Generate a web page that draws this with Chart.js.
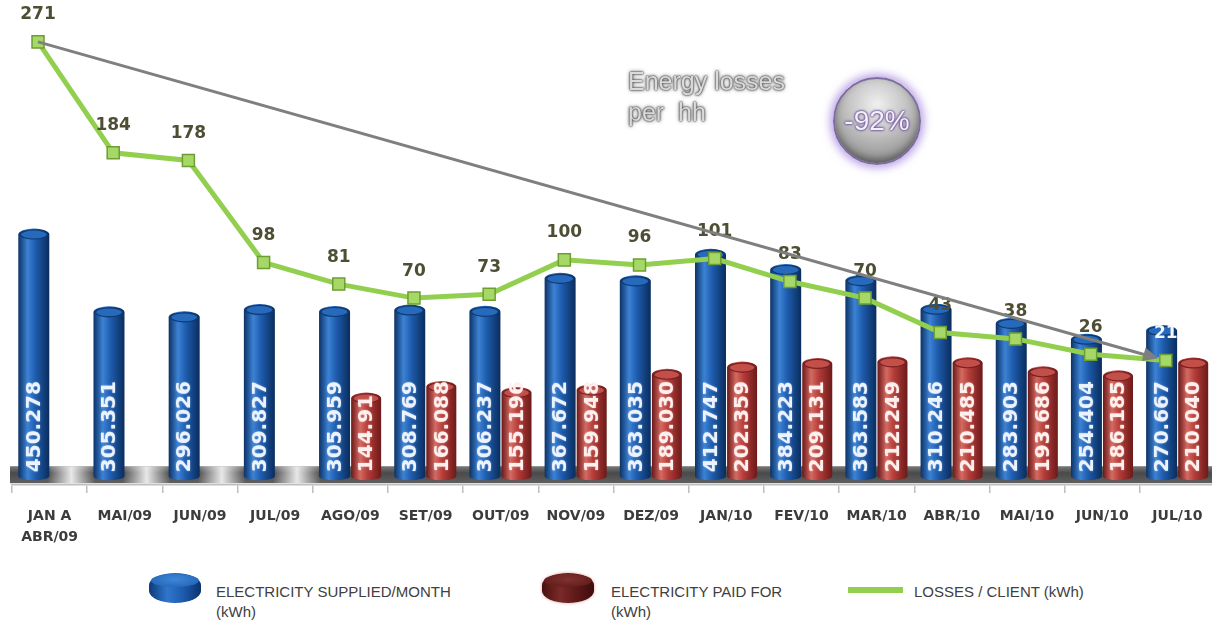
<!DOCTYPE html>
<html>
<head>
<meta charset="utf-8">
<script src="https://cdn.jsdelivr.net/npm/chart.js@4.4.1/dist/chart.umd.min.js"></script>
<style>
  html, body { margin: 0; padding: 0; background: #fff; width: 1212px; height: 623px; overflow: hidden; }
  #wrap { position: relative; width: 1212px; height: 623px; overflow: hidden; }
  #chart { position: absolute; left: 0; top: 0; }
  .note {
    position: absolute; left: 628px; top: 66px;
    font: 25px "Liberation Sans", Arial, sans-serif; line-height: 31px;
    color: #dadada;
    text-shadow: 0 0 2px #4a4a4a, 0 0 2px #4a4a4a, 0 0 4px #666;
  }
  .badge {
    position: absolute; left: 833px; top: 77px; width: 88px; height: 88px;
    box-sizing: border-box; border-radius: 50%;
    border: 2px solid #7d6c9e;
    background: radial-gradient(circle at 50% 30%, #f0f0f0 0%, #c4c4c4 40%, #939393 78%, #6c6c6c 100%);
    box-shadow: 0 0 8px 3px rgba(170, 140, 225, 0.8), inset 0 -4px 7px rgba(0,0,0,0.35);
    display: flex; align-items: center; justify-content: center;
    font: 28px "Liberation Sans", Arial, sans-serif; color: #f4f0fb;
    text-shadow: 0 0 2px #6b4f9a, 0 0 2px #6b4f9a, 0 0 3px #6b4f9a;
  }
  .puck { position: absolute; width: 52px; height: 30px; border-radius: 50% / 40%; }
  .puck::before {
    content: ""; position: absolute; left: 2px; right: 2px; top: 1px; height: 13px; border-radius: 50%;
  }
  .puck.blue { background: linear-gradient(to right, #0d3a78, #2f76cc 35%, #1d5cae 65%, #0b336e); }
  .puck.blue::before { background: radial-gradient(ellipse at 50% 40%, #3f86d8, #1f5fb2); }
  .puck.red { background: linear-gradient(to right, #4a1010, #7a2a28 35%, #5e1a18 65%, #3e0d0d); box-shadow: 0 0 3px rgba(200,60,60,0.6); }
  .puck.red::before { background: radial-gradient(ellipse at 50% 40%, #803230, #5a1816); }
  .leg { position: absolute; font: 15px "Liberation Sans", Arial, sans-serif; line-height: 20px; color: #404040; }
  .lossline { position: absolute; left: 848px; top: 587px; width: 55px; height: 6px; background: #93cf4f; }
</style>
</head>
<body>
<div id="wrap">
  <canvas id="chart" width="1226" height="560"></canvas>
  <div class="note">Energy losses<br>per&nbsp; hh</div>
  <div class="badge">-92%</div>
  <div class="puck blue" style="left:149px; top:573px;"></div>
  <div class="leg" style="left:216px; top:582px;">ELECTRICITY SUPPLIED/MONTH<br>(kWh)</div>
  <div class="puck red" style="left:542px; top:573px;"></div>
  <div class="leg" style="left:611px; top:582px;">ELECTRICITY PAID FOR<br>(kWh)</div>
  <div class="lossline"></div>
  <div class="leg" style="left:914px; top:582px;">LOSSES / CLIENT (kWh)</div>
</div>
<script>
// categories
const months = [['JAN A', 'ABR/09'], 'MAI/09', 'JUN/09', 'JUL/09', 'AGO/09', 'SET/09', 'OUT/09', 'NOV/09',
                'DEZ/09', 'JAN/10', 'FEV/10', 'MAR/10', 'ABR/10', 'MAI/10', 'JUN/10', 'JUL/10'];

// electricity supplied per month (thousand kWh)
const supplied = [450.278, 305.351, 296.026, 309.827, 305.959, 308.769, 306.237, 367.672,
                  363.035, 412.747, 384.223, 363.583, 310.246, 283.903, 254.404, 270.667];
const suppliedText = ['450.278', '305.351', '296.026', '309.827', '305.959', '308.769', '306.237', '367.672',
                      '363.035', '412.747', '384.223', '363.583', '310.246', '283.903', '254.404', '270.667'];

// electricity paid for
const paid = [null, null, null, null, 144.91, 166.088, 155.196, 159.948,
              189.030, 202.359, 209.131, 212.249, 210.485, 193.686, 186.185, 210.040];
const paidText = [null, null, null, null, '144.91', '166.088', '155.196', '159.948',
                  '189.030', '202.359', '209.131', '212.249', '210.485', '193.686', '186.185', '210.040'];

// losses per client (kWh)
const losses = [271, 184, 178, 98, 81, 70, 73, 100, 96, 101, 83, 70, 43, 38, 26, 21];

const bluePal = { edge: '#0c3266', light: '#3c82d4', mid: '#1e5cae', dark: '#0a2d5c', cap: '#2769bb', rim: '#0d3a74', text: '#eaf3ff' };
const redPal = { edge: '#6a1818', light: '#d46a62', mid: '#b43c38', dark: '#6c1a1a', cap: '#c24f4a', rim: '#7a2020', text: '#fff0ee' };

function drawCylinder(ctx, x, top, base, w, pal) {
    const rx = w / 2, ry = 6;
    const left = x - rx;
    const g = ctx.createLinearGradient(left, 0, left + w, 0);
    g.addColorStop(0, pal.edge);
    g.addColorStop(0.3, pal.light);
    g.addColorStop(0.55, pal.mid);
    g.addColorStop(1, pal.dark);
    ctx.fillStyle = g;
    ctx.beginPath();
    ctx.moveTo(left, top);
    ctx.lineTo(left, base);
    ctx.ellipse(x, base, rx, 4, 0, Math.PI, 0, true);
    ctx.lineTo(left + w, top);
    ctx.ellipse(x, top, rx, ry, 0, 0, Math.PI, true);
    ctx.closePath();
    ctx.fill();
    // top face
    ctx.beginPath();
    ctx.ellipse(x, top, rx - 2, ry - 1.5, 0, 0, Math.PI * 2);
    ctx.fillStyle = pal.cap;
    ctx.fill();
    ctx.lineWidth = 1.2;
    ctx.strokeStyle = pal.rim;
    ctx.stroke();
}

const cylinders = {
    id: 'cylinders',
    beforeDatasetsDraw(chart) {
        // dark floor under the bars
        const ctx = chart.ctx, area = chart.chartArea;
        const base = chart.scales.y.getPixelForValue(0);
        const g = ctx.createLinearGradient(0, base - 10, 0, base + 7);
        g.addColorStop(0, '#7a7a7a');
        g.addColorStop(0.4, '#4a4a4a');
        g.addColorStop(1, '#606060');
        ctx.save();
        ctx.fillStyle = g;
        ctx.fillRect(area.left - 2, base - 10, area.right - area.left + 4, 17);
        const blueMeta = chart.getDatasetMeta(0);
        const step = chart.scales.x.getPixelForValue(1) - chart.scales.x.getPixelForValue(0);
        blueMeta.data.forEach((bar, i) => {
            if (paid[i] != null) return;
            const cx = bar.x + step / 2;
            const lg = ctx.createLinearGradient(cx - 24, 0, cx + 24, 0);
            lg.addColorStop(0, 'rgba(240,240,240,0)');
            lg.addColorStop(0.5, 'rgba(240,240,240,0.95)');
            lg.addColorStop(1, 'rgba(240,240,240,0)');
            ctx.fillStyle = lg;
            ctx.fillRect(cx - 24, base - 10, 48, 17);
        });
        ctx.restore();
    },
    beforeDatasetDraw(chart, args) {
        const ds = chart.data.datasets[args.index];
        if (ds.type === 'line') return;
        const ctx = chart.ctx;
        ctx.save();
        args.meta.data.forEach((bar, i) => {
            if (ds.data[i].y == null) return;
            const p = bar.getProps(['x', 'y', 'base', 'width'], true);
            drawCylinder(ctx, p.x, p.y, p.base, p.width, ds.pal);
        });
        ctx.font = 'bold 20px "DejaVu Sans"';
        ctx.textAlign = 'left';
        ctx.textBaseline = 'middle';
        args.meta.data.forEach((bar, i) => {
            if (ds.data[i].y == null) return;
            const p = bar.getProps(['x', 'base'], true);
            ctx.save();
            ctx.translate(p.x + 1, p.base - 4);
            ctx.rotate(-Math.PI / 2);
            ctx.shadowColor = 'rgba(255,255,255,0.5)';
            ctx.shadowBlur = 2;
            ctx.fillStyle = ds.pal.text;
            ctx.fillText(ds.texts[i], 0, 0);
            ctx.restore();
        });
        ctx.restore();
        return false;
    },
    afterDatasetsDraw(chart) {
        const ctx = chart.ctx;
        const lineMeta = chart.getDatasetMeta(2);
        const blueBars = chart.getDatasetMeta(0).data;
        ctx.save();
        // values above the loss markers
        ctx.font = 'bold 17px "DejaVu Sans"';
        ctx.textAlign = 'center';
        ctx.textBaseline = 'middle';
        lineMeta.data.forEach((pt, i) => {
            const ly = pt.y - 27;
            const bar = blueBars[i];
            const onBar = Math.abs(bar.x - pt.x) < bar.width / 2 && ly > bar.y;
            ctx.fillStyle = onBar ? '#f2f6ff' : '#4e4e34';
            ctx.fillText(String(losses[i]), pt.x, ly);
        });
        // trend arrow
        const tr = chart.getDatasetMeta(3).data;
        const a = tr[0], b = tr[tr.length - 1];
        const ang = Math.atan2(b.y - a.y, b.x - a.x);
        const ex = b.x - Math.cos(ang) * 8, ey = b.y - Math.sin(ang) * 8;
        ctx.strokeStyle = '#7f7f7f';
        ctx.fillStyle = '#7f7f7f';
        ctx.lineWidth = 3;
        ctx.beginPath();
        ctx.moveTo(a.x, a.y);
        ctx.lineTo(ex - Math.cos(ang) * 10, ey - Math.sin(ang) * 10);
        ctx.stroke();
        ctx.beginPath();
        ctx.moveTo(ex, ey);
        ctx.lineTo(ex - Math.cos(ang) * 15 + Math.sin(ang) * 7, ey - Math.sin(ang) * 15 - Math.cos(ang) * 7);
        ctx.lineTo(ex - Math.cos(ang) * 15 - Math.sin(ang) * 7, ey - Math.sin(ang) * 15 + Math.cos(ang) * 7);
        ctx.closePath();
        ctx.fill();
        ctx.restore();
    }
};

const asPoints = arr => arr.map((v, i) => ({ x: i, y: v }));

new Chart(document.getElementById('chart'), {
    type: 'bar',
    data: {
        labels: months,
        datasets: [
            { label: 'ELECTRICITY SUPPLIED/MONTH (kWh)', data: asPoints(supplied), texts: suppliedText, pal: bluePal,
              backgroundColor: '#1e5cae', order: 3, yAxisID: 'y', xAxisID: 'xb', grouped: false, barThickness: 31 },
            { label: 'ELECTRICITY PAID FOR (kWh)', data: asPoints(paid), texts: paidText, pal: redPal,
              backgroundColor: '#b43c38', order: 3, yAxisID: 'y', xAxisID: 'xr', grouped: false, barThickness: 30 },
            { type: 'line', label: 'LOSSES / CLIENT (kWh)',
              data: asPoints(losses),
              xAxisID: 'xl', yAxisID: 'yl', order: 1,
              borderColor: '#93cf4f', borderWidth: 5, tension: 0,
              pointStyle: 'rect', pointRadius: 8.5,
              pointBackgroundColor: '#a6d867', pointBorderColor: '#6e9d34', pointBorderWidth: 1.5 },
            { type: 'line', label: 'trend',
              data: [{ x: 0, y: losses[0] }, { x: losses.length - 1, y: losses[losses.length - 1] }],
              xAxisID: 'xl', yAxisID: 'yl', order: 0, showLine: false, pointRadius: 0 }
        ]
    },
    options: {
        responsive: false,
        animation: false,
        events: [],
        layout: { padding: { left: 12, right: 11, top: 0, bottom: 0 } },
        plugins: { legend: { display: false }, tooltip: { enabled: false } },
        scales: {
            x: {
                type: 'category',
                offset: true,
                grid: { drawOnChartArea: false, drawTicks: true, tickLength: 8, color: '#bfbfbf', lineWidth: 1.5 },
                border: { display: true, color: '#bfbfbf', width: 1.5 },
                ticks: { color: '#3c3c3c', font: { family: 'DejaVu Sans', size: 14, weight: 'bold', lineHeight: 1.5 },
                         padding: 13, maxRotation: 0, autoSkip: false },
                afterFit(scale) { scale.height = 75; }
            },
            // hidden index axes: blue sits left of each category centre, red right of it
            xb: { type: 'linear', display: false, offset: false, min: -0.29, max: 15.71 },
            xr: { type: 'linear', display: false, offset: false, min: -0.71, max: 15.29 },
            xl: { type: 'linear', display: false, offset: false, min: -0.346, max: 15.654 },
            y: { display: false, min: -16.4, max: 868.6 },
            yl: { display: false, min: -76.6, max: 296 }
        }
    },
    plugins: [cylinders]
});
</script>
</body>
</html>
